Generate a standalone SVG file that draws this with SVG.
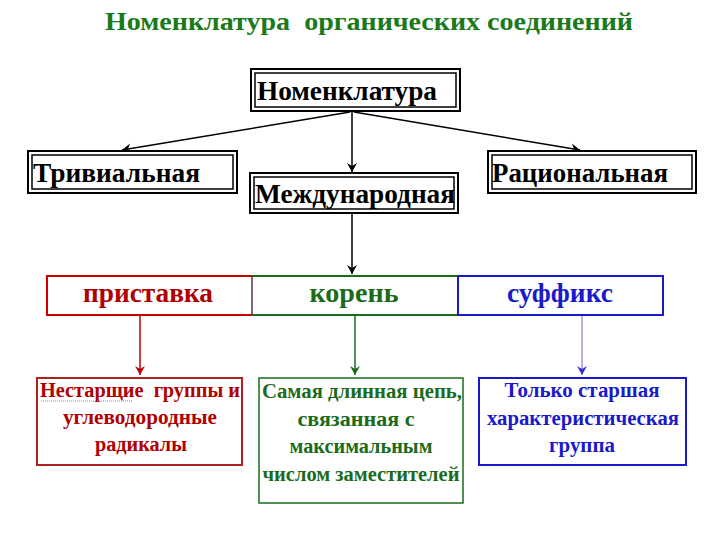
<svg xmlns="http://www.w3.org/2000/svg" width="720" height="540" viewBox="0 0 720 540">
<style>
.t{font-family:"Liberation Serif","Times New Roman",serif;font-weight:bold;white-space:pre}
.blk{fill:#000}
.outer{fill:#fff;stroke:#000;stroke-width:2}
.inner{fill:none;stroke:#000;stroke-width:1.5}
.c{stroke-width:1.5;fill:none}
</style>
<defs>
<marker id="ak" markerWidth="12" markerHeight="12" refX="10" refY="6" orient="auto" markerUnits="userSpaceOnUse"><path d="M1,1 L10,6 L1,11 L4,6 Z" fill="#000"/></marker>
<marker id="ar" markerWidth="12" markerHeight="12" refX="10" refY="6" orient="auto" markerUnits="userSpaceOnUse"><path d="M1,1 L10,6 L1,11 L4,6 Z" fill="#c00000"/></marker>
<marker id="ag" markerWidth="12" markerHeight="12" refX="10" refY="6" orient="auto" markerUnits="userSpaceOnUse"><path d="M1,1 L10,6 L1,11 L4,6 Z" fill="#1a6b1a"/></marker>
<marker id="ab" markerWidth="12" markerHeight="12" refX="10" refY="6" orient="auto" markerUnits="userSpaceOnUse"><path d="M1,1 L10,6 L1,11 L4,6 Z" fill="#3333cc"/></marker>
</defs>
<rect width="720" height="540" fill="#fff"/>
<text class="t" x="105" y="30" font-size="26" fill="#1a7a1a" textLength="528" lengthAdjust="spacingAndGlyphs">Номенклатура  органических соединений</text>

<g id="connectors">
<line class="c" x1="350" y1="112" x2="122" y2="150" stroke="#000" marker-end="url(#ak)"/>
<line class="c" x1="354" y1="112" x2="580" y2="150" stroke="#000" marker-end="url(#ak)"/>
<line class="c" x1="352" y1="112" x2="352" y2="172" stroke="#000" marker-end="url(#ak)"/>
<line class="c" x1="352" y1="212" x2="352" y2="274" stroke="#000" marker-end="url(#ak)"/>
<line class="c" x1="140" y1="315" x2="140" y2="375" stroke="#c00000" marker-end="url(#ar)"/>
<line class="c" x1="355" y1="315" x2="355" y2="375" stroke="#1a6b1a" marker-end="url(#ag)"/>
<line class="c" x1="582" y1="315" x2="582" y2="375" stroke="#9999dd" marker-end="url(#ab)"/>
</g>

<g id="n-nomenklatura">
<rect class="outer" x="251" y="69" width="209" height="42"/>
<rect class="inner" x="255" y="73" width="201" height="34"/>
<text class="t blk" x="257" y="100" font-size="28" textLength="180" lengthAdjust="spacingAndGlyphs">Номенклатура</text>
</g>
<g id="n-trivial">
<rect class="outer" x="28" y="151" width="209" height="42"/>
<rect class="inner" x="32" y="155" width="201" height="34"/>
<text class="t blk" x="33" y="182" font-size="28" textLength="167" lengthAdjust="spacingAndGlyphs">Тривиальная</text>
</g>
<g id="n-mezhdunarodnaya">
<rect class="outer" x="250" y="173" width="208" height="40"/>
<rect class="inner" x="254" y="177" width="200" height="32"/>
<text class="t blk" x="255" y="203" font-size="28" textLength="200" lengthAdjust="spacingAndGlyphs">Международная</text>
</g>
<g id="n-racionalnaya">
<rect class="outer" x="488" y="151" width="208" height="42"/>
<rect class="inner" x="492" y="155" width="200" height="34"/>
<text class="t blk" x="492" y="182" font-size="28" textLength="176" lengthAdjust="spacingAndGlyphs">Рациональная</text>
</g>

<g id="n-pristavka">
<path d="M252,276 H47 V315 H252" fill="none" stroke="#cc0000" stroke-width="2"/>
<text class="t" x="148" y="302" font-size="27" fill="#b00000" text-anchor="middle" textLength="130" lengthAdjust="spacingAndGlyphs">приставка</text>
</g>
<g id="n-koren">
<path d="M252,276 H458 M252,315 H458" fill="none" stroke="#1a6b1a" stroke-width="2"/>
<line x1="252" y1="276" x2="252" y2="315" stroke="#6b3030" stroke-width="1.5"/>
<text class="t" x="354" y="302" font-size="27" fill="#1a6b1a" text-anchor="middle" textLength="89" lengthAdjust="spacingAndGlyphs">корень</text>
</g>
<g id="n-suffiks">
<rect x="458" y="276" width="205" height="39" fill="none" stroke="#1a1acc" stroke-width="2"/>
<text class="t" x="560" y="302" font-size="27" fill="#1a1acc" text-anchor="middle" textLength="106" lengthAdjust="spacingAndGlyphs">суффикс</text>
</g>

<g id="n-nestarshie">
<rect x="37" y="378" width="205" height="87" fill="#fff" stroke="#b02020" stroke-width="2"/>
<text class="t" x="40" y="397" font-size="20" fill="#b00000" textLength="200" lengthAdjust="spacingAndGlyphs">Нестарщие  группы и</text>
<line x1="41" y1="401" x2="132" y2="401" stroke="#a08080" stroke-width="1" stroke-dasharray="1,1"/>
<text class="t" x="140" y="424" font-size="20" fill="#b00000" text-anchor="middle" textLength="154" lengthAdjust="spacingAndGlyphs">углеводородные</text>
<text class="t" x="141" y="451" font-size="20" fill="#b00000" text-anchor="middle" textLength="92" lengthAdjust="spacingAndGlyphs">радикалы</text>
</g>
<g id="n-cep">
<rect x="259" y="378" width="204" height="125" fill="#fff" stroke="#1a6b1a" stroke-width="1.5"/>
<text class="t" x="362" y="398" font-size="20" fill="#1a6b1a" text-anchor="middle" textLength="200" lengthAdjust="spacingAndGlyphs">Самая длинная цепь,</text>
<text class="t" x="356" y="426" font-size="20" fill="#1a6b1a" text-anchor="middle" textLength="117" lengthAdjust="spacingAndGlyphs">связанная с</text>
<text class="t" x="361" y="453" font-size="20" fill="#1a6b1a" text-anchor="middle" textLength="143" lengthAdjust="spacingAndGlyphs">максимальным</text>
<text class="t" x="361" y="481" font-size="20" fill="#1a6b1a" text-anchor="middle" textLength="197" lengthAdjust="spacingAndGlyphs">числом заместителей</text>
</g>
<g id="n-starshaya">
<rect x="479" y="378" width="207" height="87" fill="#fff" stroke="#1a1acc" stroke-width="2"/>
<text class="t" x="582" y="397" font-size="20" fill="#1a1acc" text-anchor="middle" textLength="155" lengthAdjust="spacingAndGlyphs">Только старшая</text>
<text class="t" x="583" y="425" font-size="20" fill="#1a1acc" text-anchor="middle" textLength="192" lengthAdjust="spacingAndGlyphs">характеристическая</text>
<text class="t" x="582" y="452" font-size="20" fill="#1a1acc" text-anchor="middle" textLength="66" lengthAdjust="spacingAndGlyphs">группа</text>
</g>
</svg>
